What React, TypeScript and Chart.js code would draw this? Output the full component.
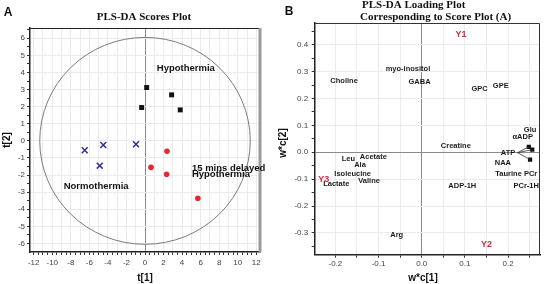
import React, { useEffect, useRef } from "react";
import { Chart, registerables } from "chart.js";
Chart.register(...registerables);

const SANS = "'Liberation Sans', Arial, sans-serif";
const SERIF = "'Liberation Serif', 'Times New Roman', serif";

// ---------- Panel A: scores ----------
const hypoX = [0.18, 2.87, -0.36, 3.8];
const hypoY = [3.12, 2.69, 1.95, 1.81];
const normoX = [-6.5, -4.5, -0.97, -4.88];
const normoY = [-0.55, -0.24, -0.2, -1.45];
const delayedX = [2.37, 0.65, 2.33, 5.7];
const delayedY = [-0.61, -1.55, -1.96, -3.36];

const ellipseRX = 11.35;
const ellipseRY = 6.05;

const groupNames = ["Hypothermia", "15 mins delayed", "Hypothermia", "Normothermia"];
const groupX = [4.4, 5.06, 5.06, -5.27];
const groupY = [4.25, -1.59, -1.96, -2.66];
const groupAlign: CanvasTextAlign[] = ["center", "left", "left", "center"];

const xLabelsA = [-12, -10, -8, -6, -4, -2, 0, 2, 4, 6, 8, 10, 12];
const yLabelsA = [-6, -5, -4, -3, -2, -1, 0, 1, 2, 3, 4, 5, 6];

// ---------- Panel B: loadings ----------
const loadNames = [
  "myo-inositol", "Choline", "GABA", "GPC", "GPE", "Glu", "\u03b1ADP", "Creatine",
  "ATP", "NAA", "Taurine PCr", "PCr-1H", "ADP-1H", "Acetate", "Leu", "Ala",
  "Isoleucine", "Valine", "Lactate", "Arg",
];
const loadX = [
  -0.032, -0.18, -0.005, 0.134, 0.183, 0.251, 0.234, 0.079,
  0.2, 0.188, 0.219, 0.242, 0.094, -0.112, -0.17, -0.143,
  -0.16, -0.122, -0.198, -0.058,
];
const loadY = [
  0.31, 0.265, 0.26, 0.236, 0.246, 0.083, 0.058, 0.023,
  -0.004, -0.039, -0.081, -0.124, -0.126, -0.016, -0.024, -0.046,
  -0.081, -0.108, -0.117, -0.306,
];
const respNames = ["Y1", "Y2", "Y3"];
const respX = [0.091, 0.15, -0.227];
const respY = [0.439, -0.343, -0.102];

const atpPointX = [0.248, 0.256, 0.251];
const atpPointY = [0.02, 0.01, -0.027];
const atpAnchorX = 0.222;
const atpAnchorY = -0.0015;

const xLabelsB = [-0.2, -0.1, 0, 0.1, 0.2];
const yLabelsB = [-0.3, -0.2, -0.1, 0, 0.1, 0.2, 0.3, 0.4];

function steps(from: number, to: number, step: number) {
  const out: number[] = [];
  for (let i = 0; ; i++) {
    const v = +(from + i * step).toFixed(4);
    if (v > to + 1e-9) break;
    out.push(v);
  }
  return out;
}
const xTicksA = steps(-12, 12, 0.5);
const yTicksA = steps(-6, 6.5, 0.5);
const xTicksB = steps(-0.2, 0.25, 0.05);
const yTicksB = steps(-0.35, 0.45, 0.05);

const has = (arr: number[], v: number) => arr.some((a) => Math.abs(a - v) < 1e-6);

function PanelA() {
  const ref = useRef<HTMLCanvasElement>(null);
  useEffect(() => {
    const deco = {
      id: "decoA",
      beforeDatasetsDraw(chart: any) {
        const { ctx, chartArea: a, scales } = chart;
        const x = scales.x, y = scales.y;
        ctx.save();
        ctx.beginPath();
        ctx.rect(a.left, a.top, a.right - a.left, a.bottom - a.top);
        ctx.clip();
        const cx = x.getPixelForValue(0), cy = y.getPixelForValue(0);
        const rx = x.getPixelForValue(ellipseRX) - cx;
        const ry = cy - y.getPixelForValue(ellipseRY);
        ctx.beginPath();
        ctx.ellipse(cx, cy, rx, ry, 0, 0, Math.PI * 2);
        ctx.strokeStyle = "#7a7a7a";
        ctx.lineWidth = 1;
        ctx.stroke();
        ctx.restore();
      },
      afterDraw(chart: any) {
        const { ctx, chartArea: a, scales } = chart;
        const x = scales.x, y = scales.y;
        ctx.save();
        ctx.strokeStyle = "#222";
        ctx.lineWidth = 1;
        ctx.beginPath();
        ctx.moveTo(a.left, a.top + 0.5);
        ctx.lineTo(a.right, a.top + 0.5);
        ctx.stroke();
        ctx.strokeStyle = "#9a9a9a";
        ctx.lineWidth = 3;
        ctx.beginPath();
        ctx.moveTo(a.right, a.top);
        ctx.lineTo(a.right, a.bottom);
        ctx.stroke();

        ctx.fillStyle = "#111";
        ctx.textBaseline = "middle";
        ctx.font = `bold 9.5px ${SANS}`;
        groupNames.forEach((n, i) => {
          ctx.textAlign = groupAlign[i];
          ctx.fillText(n, x.getPixelForValue(groupX[i]), y.getPixelForValue(groupY[i]));
        });

        ctx.textAlign = "center";
        ctx.font = `bold 11px ${SERIF}`;
        ctx.fillText("PLS-DA Scores Plot", 144, 17);
        ctx.font = `bold 12px ${SANS}`;
        ctx.fillText("A", 8, 12.5);
        ctx.font = `bold 10px ${SANS}`;
        ctx.fillText("t[1]", 145, 278.5);
        ctx.translate(7, 140);
        ctx.rotate(-Math.PI / 2);
        ctx.fillText("t[2]", 0, 0);
        ctx.restore();
      },
    };

    const chart = new Chart(ref.current!, {
      type: "scatter",
      data: {
        datasets: [
          {
            label: "Hypothermia",
            data: hypoX.map((v, i) => ({ x: v, y: hypoY[i] })),
            pointStyle: "rect",
            pointRadius: 3.5,
            backgroundColor: "#111",
            borderColor: "#111",
            borderWidth: 0,
          },
          {
            label: "Normothermia",
            data: normoX.map((v, i) => ({ x: v, y: normoY[i] })),
            pointStyle: "crossRot",
            pointRadius: 4.2,
            borderColor: "#30309a",
            borderWidth: 1.5,
          },
          {
            label: "15 mins delayed Hypothermia",
            data: delayedX.map((v, i) => ({ x: v, y: delayedY[i] })),
            pointStyle: "circle",
            pointRadius: 2.8,
            backgroundColor: "#e8262b",
            borderColor: "#e8262b",
            borderWidth: 0,
          },
        ],
      },
      options: {
        animation: false,
        responsive: false,
        devicePixelRatio: 1,
        layout: { padding: { left: 0, right: 12, top: 28, bottom: 0 } },
        plugins: { legend: { display: false }, tooltip: { enabled: false }, title: { display: false } },
        scales: {
          x: {
            type: "linear",
            min: -12.4,
            max: 12.4,
            afterBuildTicks: (ax: any) => { ax.ticks = xTicksA.map((v) => ({ value: v })); },
            afterFit: (ax: any) => { ax.height = 32; },
            ticks: {
              autoSkip: false,
              maxRotation: 0,
              padding: 3,
              color: "#444",
              font: { family: SANS, size: 8 },
              callback: (v: any) => (has(xLabelsA, v) ? String(v) : ""),
            },
            grid: {
              tickLength: 3,
              tickColor: "#333",
              color: (c: any) => {
                const v = c.tick?.value;
                if (v === undefined) return "rgba(0,0,0,0)";
                if (Math.abs(v) < 1e-6) return "#8a8a8a";
                return Number.isInteger(v) ? "#ebebeb" : "rgba(0,0,0,0)";
              },
            },
            border: { display: true, color: "#222", width: 1.5 },
          },
          y: {
            type: "linear",
            min: -6.5,
            max: 6.6,
            afterBuildTicks: (ax: any) => { ax.ticks = yTicksA.map((v) => ({ value: v })); },
            afterFit: (ax: any) => { ax.width = 30; },
            ticks: {
              autoSkip: false,
              padding: 2,
              color: "#444",
              font: { family: SANS, size: 8 },
              callback: (v: any) => (has(yLabelsA, v) ? String(v) : ""),
            },
            grid: {
              tickLength: 3,
              tickColor: "#333",
              color: (c: any) => {
                const v = c.tick?.value;
                if (v === undefined) return "rgba(0,0,0,0)";
                return Number.isInteger(v) ? "#ebebeb" : "rgba(0,0,0,0)";
              },
            },
            border: { display: true, color: "#222", width: 1.5 },
          },
        },
      },
      plugins: [deco],
    } as any);
    return () => chart.destroy();
  }, []);
  return <canvas ref={ref} width={272} height={284} style={{ position: "absolute", left: 0, top: 0, width: 272, height: 284 }} />;
}

function PanelB() {
  const ref = useRef<HTMLCanvasElement>(null);
  useEffect(() => {
    const deco = {
      id: "decoB",
      afterDatasetsDraw(chart: any) {
        const { ctx, scales } = chart;
        const x = scales.x, y = scales.y;
        ctx.save();
        ctx.strokeStyle = "#333";
        ctx.lineWidth = 0.8;
        const ax = x.getPixelForValue(atpAnchorX), ay = y.getPixelForValue(atpAnchorY);
        atpPointX.forEach((px, i) => {
          ctx.beginPath();
          ctx.moveTo(ax, ay);
          ctx.lineTo(x.getPixelForValue(px), y.getPixelForValue(atpPointY[i]));
          ctx.stroke();
        });
        ctx.restore();
      },
      afterDraw(chart: any) {
        const { ctx, chartArea: a, scales } = chart;
        const x = scales.x, y = scales.y;
        ctx.save();
        ctx.strokeStyle = "#333";
        ctx.lineWidth = 1;
        ctx.beginPath();
        ctx.moveTo(a.left, a.top + 0.5);
        ctx.lineTo(a.right - 0.5, a.top + 0.5);
        ctx.lineTo(a.right - 0.5, a.bottom);
        ctx.stroke();

        ctx.textBaseline = "middle";
        ctx.textAlign = "center";
        ctx.fillStyle = "#1a1a1a";
        ctx.font = `bold 7.5px ${SANS}`;
        loadNames.forEach((n, i) => {
          ctx.fillText(n, x.getPixelForValue(loadX[i]), y.getPixelForValue(loadY[i]));
        });
        ctx.fillStyle = "#d42a3c";
        ctx.font = `bold 9px ${SANS}`;
        respNames.forEach((n, i) => {
          ctx.fillText(n, x.getPixelForValue(respX[i]), y.getPixelForValue(respY[i]));
        });

        ctx.fillStyle = "#111";
        ctx.textAlign = "left";
        ctx.font = `bold 11px ${SERIF}`;
        ctx.fillText("PLS-DA Loading Plot", 90, 5.5);
        ctx.fillText("Corresponding to Score Plot (A)", 88, 17);
        ctx.textAlign = "center";
        ctx.font = `bold 12px ${SANS}`;
        ctx.fillText("B", 17, 11.5);
        ctx.font = `bold 10px ${SANS}`;
        ctx.fillText("w*c[1]", 151, 278);
        ctx.translate(11, 143);
        ctx.rotate(-Math.PI / 2);
        ctx.fillText("w*c[2]", 0, 0);
        ctx.restore();
      },
    };

    const chart = new Chart(ref.current!, {
      type: "scatter",
      data: {
        datasets: [
          {
            label: "ATP",
            data: atpPointX.map((v, i) => ({ x: v, y: atpPointY[i] })),
            pointStyle: "rect",
            pointRadius: 3,
            backgroundColor: "#111",
            borderColor: "#111",
            borderWidth: 0,
          },
        ],
      },
      options: {
        animation: false,
        responsive: false,
        devicePixelRatio: 1,
        layout: { padding: { left: 0, right: 2, top: 23, bottom: 0 } },
        plugins: { legend: { display: false }, tooltip: { enabled: false }, title: { display: false } },
        scales: {
          x: {
            type: "linear",
            min: -0.248,
            max: 0.274,
            afterBuildTicks: (ax: any) => { ax.ticks = xTicksB.map((v) => ({ value: v })); },
            afterFit: (ax: any) => { ax.height = 29.3; },
            ticks: {
              autoSkip: false,
              maxRotation: 0,
              padding: 1,
              color: "#444",
              font: { family: SANS, size: 8 },
              callback: (v: any) => (has(xLabelsB, v) ? Number(v).toFixed(1) : ""),
            },
            grid: {
              tickLength: 3,
              tickColor: "#333",
              color: (c: any) => {
                const v = c.tick?.value;
                if (v === undefined) return "rgba(0,0,0,0)";
                if (Math.abs(v) < 1e-6) return "#8a8a8a";
                return "#ebebeb";
              },
            },
            border: { display: true, color: "#222", width: 1.5 },
          },
          y: {
            type: "linear",
            min: -0.381,
            max: 0.481,
            afterBuildTicks: (ax: any) => { ax.ticks = yTicksB.map((v) => ({ value: v })); },
            afterFit: (ax: any) => { ax.width = 42.7; },
            ticks: {
              autoSkip: false,
              padding: 3.5,
              color: "#444",
              font: { family: SANS, size: 8 },
              callback: (v: any) => (has(yLabelsB, v) ? Number(v).toFixed(1) : ""),
            },
            grid: {
              tickLength: 3,
              tickColor: "#333",
              color: (c: any) => {
                const v = c.tick?.value;
                if (v === undefined) return "rgba(0,0,0,0)";
                if (Math.abs(v) < 1e-6) return "#8a8a8a";
                return has(yLabelsB, v) ? "#ebebeb" : "rgba(0,0,0,0)";
              },
            },
            border: { display: true, color: "#222", width: 1.5 },
          },
        },
      },
      plugins: [deco],
    } as any);
    return () => chart.destroy();
  }, []);
  return <canvas ref={ref} width={272} height={284} style={{ position: "absolute", left: 272, top: 0, width: 272, height: 284 }} />;
}

export default function App() {
  return (
    <div style={{ position: "fixed", left: 0, top: 0, width: 544, height: 284, background: "#fff", overflow: "hidden" }}>
      <PanelA />
      <PanelB />
    </div>
  );
}
